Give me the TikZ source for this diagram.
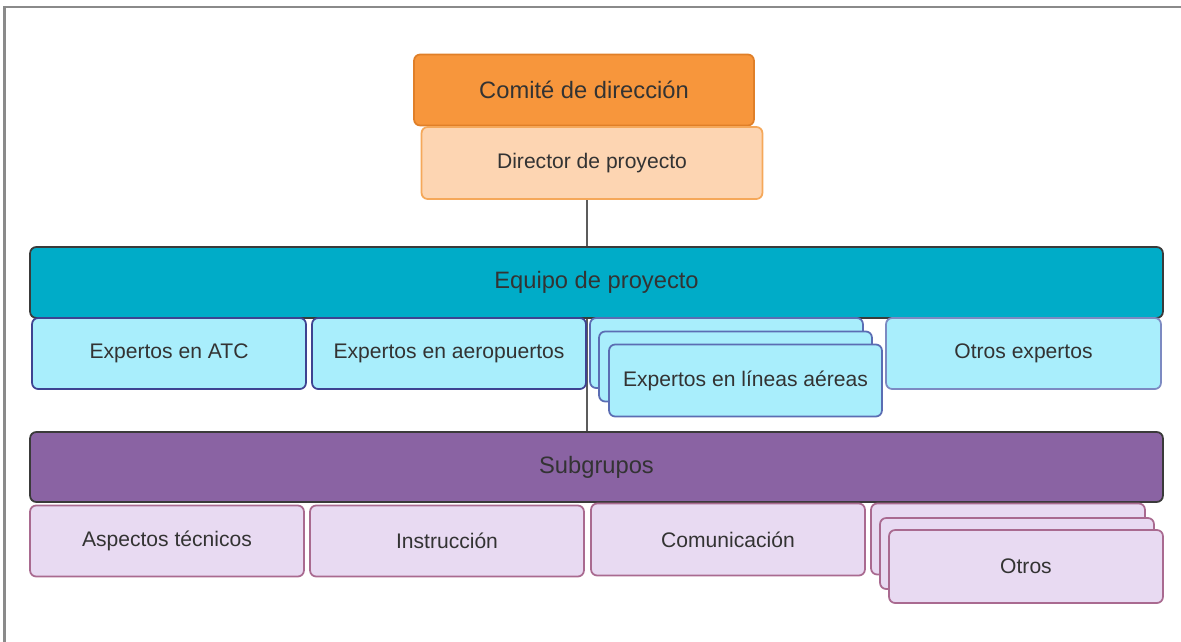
\documentclass[tikz,border=0pt]{standalone}
\usepackage{fontspec}
\setmainfont{Liberation Sans}
\usepackage{xcolor}
\usepackage{tikz}
\usetikzlibrary{positioning,calc}
\definecolor{frame}{HTML}{8A8A8A}
\definecolor{txt}{HTML}{333333}
\definecolor{edge}{HTML}{3A3A3A}
\definecolor{orangefill}{HTML}{F7963C}
\definecolor{orangeline}{HTML}{E07F28}
\definecolor{peachfill}{HTML}{FDD5B2}
\definecolor{peachline}{HTML}{F5A85A}
\definecolor{teal}{HTML}{00ACC8}
\definecolor{skyfill}{HTML}{A9EEFC}
\definecolor{skyline}{HTML}{3E4391}
\definecolor{skysoft}{HTML}{5B6DB3}
\definecolor{plum}{HTML}{8A63A3}
\definecolor{lilacfill}{HTML}{E8DAF2}
\definecolor{lilacline}{HTML}{A96A90}
\newcommand{\bigtxt}{\fontsize{13.5}{16}\selectfont}
\newcommand{\smalltxt}{\fontsize{12}{14}\selectfont}

\begin{document}
\begin{tikzpicture}[x=0.02cm,y=-0.02cm,
    box/.style={rectangle,rounded corners=3.5pt,line width=1pt,text=txt,font=\smalltxt,
                inner sep=0pt,minimum width=5.48cm,minimum height=1.42cm},
    bar/.style={box,font=\bigtxt,draw=edge,minimum width=22.66cm},
    expert/.style={box,fill=skyfill,draw=skyline},
    group/.style={box,fill=lilacfill,draw=lilacline},
    link/.style={draw=txt!80,line width=0.8pt}]
  \useasboundingbox (0,0) rectangle (1181,642);
  \draw[frame,line width=1.2pt] (4.5,642)--(4.5,7)--(1181,7);
  % trunk behind the boxes
  \coordinate (trunk) at (587,199);
  \draw[link] (trunk) -- (587,432);
  % top
  \node[box,font=\bigtxt,fill=orangefill,draw=orangeline,minimum width=6.8cm,minimum height=1.42cm]
     (comite) at (584,90) {Comité de dirección};
  \node[box,fill=peachfill,draw=peachline,minimum width=6.82cm,minimum height=1.44cm]
     (director) at (592,163) {Director de proyecto};
  % project team
  \node[bar,fill=teal] (equipo) at (596.5,282.5) {Equipo de proyecto};
  \node[expert] (atc) at (169,353.5) {Expertos en ATC};
  \node[expert] (aero) at (449,353.5) {Expertos en aeropuertos};
  \foreach \dx/\dy [count=\i] in {0/0,9/13.5}
     {\node[expert,draw=skysoft,minimum width=5.46cm,minimum height=1.4cm] (lin\i) at (726.5+\dx,353+\dy) {};}
  \node[expert,draw=skysoft,minimum width=5.46cm,minimum height=1.44cm] (lineas) at (745.5,380.5) {Expertos en líneas aéreas};
  \node[expert,draw=skysoft!80,minimum width=5.5cm] (otrosexp) at (1023.5,353.5) {Otros expertos};
  % subgroups
  \node[bar,fill=plum,minimum height=1.4cm] (sub) at (596.5,467) {Subgrupos};
  \node[group] (tecnicos) at (167,541) {Aspectos técnicos};
  \node[group] (instruccion) at (447,541) {Instrucción};
  \node[group,minimum height=1.44cm] (comunic) at (728,539.5) {Comunicación};
  \foreach \dx/\dy [count=\i] in {0/0,9/14.5}
     {\node[group] (otro\i) at (1008+\dx,539+\dy) {};}
  \node[group,minimum height=1.46cm] (otros) at (1026,566.5) {Otros};
\end{tikzpicture}
\end{document}
